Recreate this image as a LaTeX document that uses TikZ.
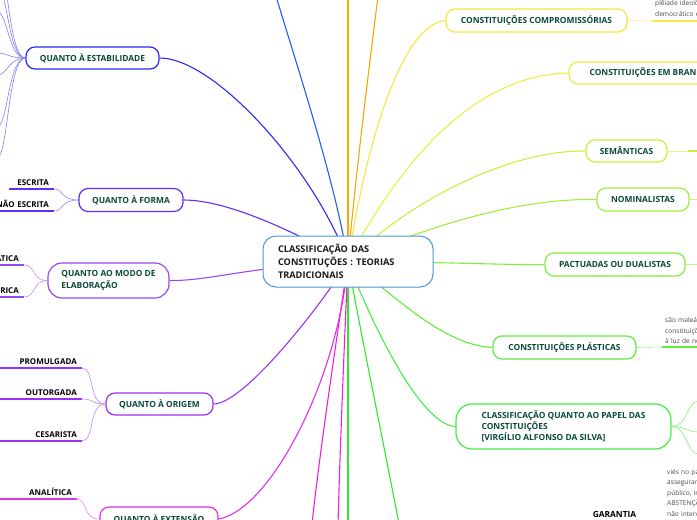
\documentclass[tikz,border=0pt]{standalone}
\usepackage{fontspec}
\setmainfont{Open Sans}
\usepackage{tikz}
\usetikzlibrary{positioning}
\definecolor{tinta}{HTML}{0B4A3A}
\definecolor{cinza}{HTML}{4A4A4A}
\definecolor{azulcentro}{HTML}{4A98D8}
\definecolor{azulest}{HTML}{2A2AF0}
\definecolor{azultopo}{HTML}{2060F0}
\definecolor{roxoforma}{HTML}{6030F0}
\definecolor{roxomodo}{HTML}{9A48F0}
\definecolor{roxoorigem}{HTML}{A030F0}
\definecolor{magentaext}{HTML}{E030E8}
\definecolor{magenta}{HTML}{F020D8}
\definecolor{verde}{HTML}{30E830}
\definecolor{verdepapel}{HTML}{44EE44}
\definecolor{verdeplast}{HTML}{5EEE3C}
\definecolor{verdepact}{HTML}{80EE3C}
\definecolor{verdenom}{HTML}{A0EE3C}
\definecolor{verdesem}{HTML}{C8F03C}
\definecolor{amarelobr}{HTML}{E8F040}
\definecolor{amarelocomp}{HTML}{F4E840}
\definecolor{laranja}{HTML}{F8A800}

\begin{document}
\begin{tikzpicture}[
    x=1pt, y=-1pt,
    ramo/.style={rectangle, rounded corners=9pt, draw=#1, line width=1.2pt, fill=white, text=tinta, font=\fontsize{8.4}{11.2}\selectfont\bfseries, align=center, inner sep=0pt},
    folha/.style={anchor=south east, font=\fontsize{8}{9}\selectfont\bfseries, align=right, inner xsep=5pt, inner ysep=3pt},
    nota/.style={anchor=south west, font=\fontsize{6.6}{10.5}\selectfont, text=cinza, align=left, inner xsep=3pt, inner ysep=3pt},
    elo/.style={line width=1.1pt},
    sub/.style={line width=0.6pt},
    trilho/.style={line width=1.5pt}
]

\useasboundingbox (0,0) rectangle (697,520);
\clip (0,0) rectangle (697,520);
\coordinate (hub) at (348,261.5);

% ramos da esquerda
\node (estab) [ramo=azulest, minimum width=133pt, minimum height=22pt] at (92.5,58) {QUANTO À ESTABILIDADE};
\node (forma) [ramo=roxoforma, minimum width=104pt, minimum height=23pt] at (131,200) {QUANTO À FORMA};
\node (modo) [ramo=roxomodo, minimum width=121pt, minimum height=35pt, align=left, rounded corners=14pt] at (108.5,280.5) {QUANTO AO MODO DE\\ELABORAÇÃO};
\node (origem) [ramo=roxoorigem, minimum width=107pt, minimum height=22pt] at (159.5,404) {QUANTO À ORIGEM};
\node (ext) [ramo=magentaext, minimum width=118pt, minimum height=24pt] at (159,519) {QUANTO À EXTENSÃO};

% ramos da direita
\node (comp) [ramo=amarelocomp, minimum width=181pt, minimum height=23pt] at (536.5,20.5) {CONSTITUIÇÕES COMPROMISSÓRIAS};
\node (branco) [ramo=amarelobr, minimum width=160pt, minimum height=22pt] at (649,73) {CONSTITUIÇÕES EM BRANCO};
\node (sem) [ramo=verdesem, minimum width=81pt, minimum height=22pt] at (626.5,151) {SEMÂNTICAS};
\node (nom) [ramo=verdenom, minimum width=92pt, minimum height=23pt] at (643,199.5) {NOMINALISTAS};
\node (pact) [ramo=verdepact, minimum width=140pt, minimum height=23pt] at (615,264.5) {PACTUADAS OU DUALISTAS};
\node (plast) [ramo=verdeplast, minimum width=143pt, minimum height=23pt] at (564.5,347.5) {CONSTITUIÇÕES PLÁSTICAS};
\node (papel) [ramo=verdepapel, minimum width=215pt, minimum height=45pt, align=left, rounded corners=16pt] at (563.5,426.5) {CLASSIFICAÇÃO QUANTO AO PAPEL DAS\\CONSTITUIÇÕES\\{[}VIRGÍLIO ALFONSO DA SILVA{]}};

% folhas
\node (escrita) [folha, text width=35pt] at (54,189) {ESCRITA};
\node (naoescrita) [folha, text width=62pt] at (54,211) {NÃO ESCRITA};
\node (dogmatica) [folha, text width=50pt] at (24,265) {DOGMÁTICA};
\node (historica) [folha, text width=50pt] at (24,297) {HISTÓRICA};
\node (promulgada) [folha, text width=75pt] at (82,368) {PROMULGADA};
\node (outorgada) [folha, text width=75pt] at (82,399) {OUTORGADA};
\node (cesarista) [folha, text width=75pt] at (82,441) {CESARISTA};
\node (analitica) [folha, text width=70pt] at (77,499) {ANALÍTICA};

\node (compnota) [nota, text width=90pt] at (652,21) {plêiade ideológica\\democrático e plural};
\node (plastnota) [nota, text width=90pt] at (662,347) {são maleáveis, as\\constituições mudam\\à luz de novas realidades};
\node (garnota) [nota, anchor=north west, text width=90pt] at (664,466) {viés no paradigma liberal\\assegurando a liberdade\\público, impondo uma\\ABSTENÇÃO do Estado\\não intervenção};
\node (garantia) [font=\fontsize{8.4}{9}\selectfont\bfseries, inner sep=0pt] at (614.5,514) {GARANTIA};

\coordinate (topoazul) at (276,-4);
\coordinate (topolaranja) at (348,-4);
\coordinate (topolaranja2) at (378,-4);
\coordinate (baixomag1) at (312,524);
\coordinate (baixomag2) at (338,524);
\coordinate (baixoverde1) at (348,524);
\coordinate (baixoverde2) at (399,524);
\coordinate (semfim) at (688,151);
\coordinate (semout) at (700,151);
\coordinate (nomout) at (700,199.5);
\coordinate (pactout) at (700,264.5);

% ligacoes
\draw [elo, azultopo] (hub) .. controls (335,180) and (295,60) .. (topoazul);
\draw [elo, laranja] (hub) -- (topolaranja);
\draw [elo, laranja] (hub) .. controls (355,180) and (370,60) .. (topolaranja2);
\draw [elo, azulest] (hub) .. controls (315,170) and (215,58) .. (estab.east);
\draw [elo, roxoforma] (hub) .. controls (300,235) and (230,200) .. (forma.east);
\draw [elo, roxomodo] (hub) .. controls (240,268) and (210,281) .. (modo.east);
\draw [elo, roxoorigem] (hub) .. controls (325,300) and (245,404) .. (origem.east);
\draw [elo, magentaext] (hub) .. controls (338,380) and (270,510) .. (ext.east);
\draw [elo, magenta] (hub) .. controls (335,350) and (320,450) .. (baixomag1);
\draw [elo, magenta] (hub) .. controls (344,350) and (340,450) .. (baixomag2);
\draw [elo, verde] (hub) -- (baixoverde1);
\draw [elo, verde] (hub) .. controls (360,330) and (385,450) .. (baixoverde2);
\draw [elo, verdepapel] (hub) .. controls (370,320) and (420,425) .. (papel.west);
\draw [elo, verdeplast] (hub) .. controls (390,290) and (440,345) .. (plast.west);
\draw [elo, verdepact] (hub) .. controls (450,262) and (500,265) .. (pact.west);
\draw [elo, verdenom] (hub) .. controls (430,225) and (520,198) .. (nom.west);
\draw [elo, verdesem] (hub) .. controls (410,200) and (510,150) .. (sem.west);
\draw [elo, amarelobr] (hub) .. controls (385,190) and (460,75) .. (branco.west);
\draw [elo, amarelocomp] (hub) .. controls (365,150) and (400,25) .. (comp.west);

% chaves dos ramos
\foreach \yy [count=\i] in {-40,-12,12,53,75,127,158} {
  \coordinate (est\i) at (-3,\yy);
  \draw [sub, azulest!60] (estab.west) .. controls (8,58) and (8,\yy) .. (est\i);
}
\draw [sub, roxoforma!60] (escrita.south east) .. controls (64,189) and (60,200) .. (forma.west);
\draw [sub, roxoforma!60] (naoescrita.south east) .. controls (64,211) and (60,200) .. (forma.west);
\draw [sub, roxomodo!60] (dogmatica.south east) .. controls (36,265) and (32,281) .. (modo.west);
\draw [sub, roxomodo!60] (historica.south east) .. controls (36,297) and (32,281) .. (modo.west);
\draw [sub, roxoorigem!60] (promulgada.south east) .. controls (95,368) and (88,404) .. (origem.west);
\draw [sub, roxoorigem!60] (outorgada.south east) .. controls (95,399) and (90,404) .. (origem.west);
\draw [sub, roxoorigem!60] (cesarista.south east) .. controls (95,441) and (88,404) .. (origem.west);
\draw [sub, magentaext!60] (analitica.south east) .. controls (88,499) and (82,519) .. (ext.west);
\foreach \f/\c in {escrita/roxoforma, naoescrita/roxoforma, dogmatica/roxomodo, historica/roxomodo, promulgada/roxoorigem, outorgada/roxoorigem, cesarista/roxoorigem, analitica/magentaext}
  \draw [trilho, \c] (\f.south west) -- (\f.south east);

\draw [sub, amarelocomp!60] (comp.east) -- (compnota.south west);
\draw [trilho, amarelocomp] (compnota.south west) -- (compnota.south east);
\draw [sub, verdesem!60] (sem.east) -- (semfim);
\draw [trilho, verdesem] (semfim) -- (semout);
\draw [sub, verdenom!60] (nom.east) -- (nomout);
\draw [sub, verdepact!60] (pact.east) -- (pactout);
\draw [sub, verdeplast!60] (plast.east) -- (plastnota.south west);
\draw [trilho, verdeplast] (plastnota.south west) -- (plastnota.south east);
\foreach \yy [count=\i] in {401,432,454} {
  \coordinate (pa\i) at (699,\yy);
  \draw [sub, verdepapel!70] (papel.east) .. controls (688,427) and (686,\yy) .. (pa\i);
}

\node (centro) [rectangle, rounded corners=13pt, draw=azulcentro, line width=1pt, fill=white, minimum width=170pt, minimum height=51pt, text width=140pt, inner xsep=15pt, align=left, font=\fontsize{9.2}{13}\selectfont\bfseries, text=black!90] at (hub) {CLASSIFICAÇÃO DAS\\CONSTITUÇÕES : TEORIAS\\TRADICIONAIS};

\end{tikzpicture}
\end{document}
